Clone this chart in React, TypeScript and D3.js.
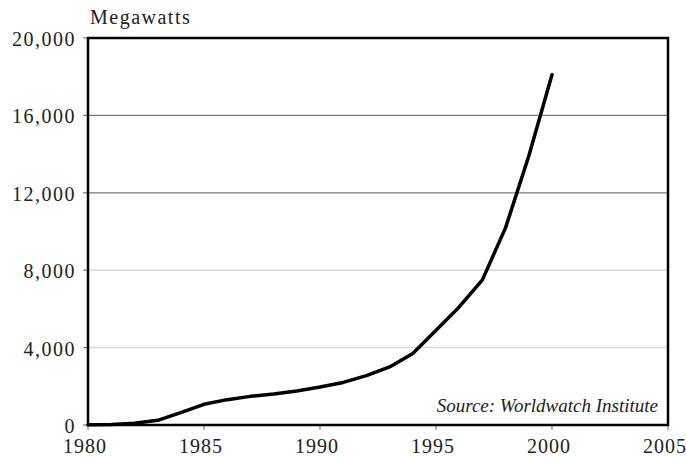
import React from "react";
import * as d3 from "d3";

const years = [1980, 1981, 1982, 1983, 1984, 1985, 1986, 1987, 1988, 1989, 1990, 1991, 1992, 1993, 1994, 1995, 1996, 1997, 1998, 1999, 2000];
const megawatts = [10, 25, 90, 240, 640, 1070, 1310, 1480, 1600, 1760, 1960, 2200, 2550, 3000, 3700, 4900, 6100, 7500, 10200, 13900, 18100];
const yTicks = [0, 4000, 8000, 12000, 16000, 20000];
const xTicks = [1980, 1985, 1990, 1995, 2000, 2005];
const darkGrid = [12000, 16000];
const lightGrid = [4000, 8000];
const yTitle = "Megawatts";
const sourceNote = "Source: Worldwatch Institute";

const W = 686, H = 457;
const L = 88, R = 668, T = 38, B = 425;
const FONT = "Liberation Serif, Times New Roman, Times, DejaVu Serif, serif";

export default function App() {
  const x = d3.scaleLinear().domain([1980, 2005]).range([L, R]);
  const y = d3.scaleLinear().domain([0, 20000]).range([B, T]);
  const line = d3
    .line<number>()
    .x((_, i) => x(years[i]))
    .y((d) => y(d))
    .curve(d3.curveLinear);
  const fmt = d3.format(",");

  return (
    <svg width={W} height={H} style={{ position: "absolute", left: 0, top: 0, background: "#fff" }}>
      <rect x={0} y={0} width={W} height={H} fill="#fff" />
      {lightGrid.map((v) => (
        <line key={"lg" + v} x1={L} x2={R} y1={y(v)} y2={y(v)} stroke="#d9d9d9" strokeWidth={1.5} />
      ))}
      {darkGrid.map((v) => (
        <line key={"dg" + v} x1={L} x2={R} y1={y(v)} y2={y(v)} stroke="#7a7a7a" strokeWidth={1.2} />
      ))}
      {yTicks.map((v) => (
        <g key={"yt" + v}>
          <line x1={L - 5} x2={L} y1={y(v)} y2={y(v)} stroke="#666" strokeWidth={1} />
          <text
            x={L - 12}
            y={y(v) + 8}
            textAnchor="end"
            style={{ fontFamily: FONT }}
            fontSize={20}
            letterSpacing={1.5}
            fill="#222"
          >
            {fmt(v)}
          </text>
        </g>
      ))}
      {xTicks.map((v) => (
        <g key={"xt" + v}>
          <line x1={x(v)} x2={x(v)} y1={B} y2={B + 5} stroke="#666" strokeWidth={1} />
          <text
            x={x(v) - 3}
            y={453}
            textAnchor="middle"
            style={{ fontFamily: FONT }}
            fontSize={20}
            letterSpacing={1}
            fill="#222"
          >
            {v}
          </text>
        </g>
      ))}
      <text x={L + 2} y={24} style={{ fontFamily: FONT }} fontSize={20} letterSpacing={1.5} fill="#222">
        {yTitle}
      </text>
      <path d={line(megawatts) || ""} fill="none" stroke="#000" strokeWidth={3.5} strokeLinejoin="round" strokeLinecap="round" />
      <rect x={L} y={T} width={R - L} height={B - T} fill="none" stroke="#000" strokeWidth={2.5} />
      <text
        x={R - 10}
        y={412}
        textAnchor="end"
        style={{ fontFamily: FONT, fontStyle: "italic" }}
        fontSize={19}
        fill="#222"
      >
        {sourceNote}
      </text>
    </svg>
  );
}
